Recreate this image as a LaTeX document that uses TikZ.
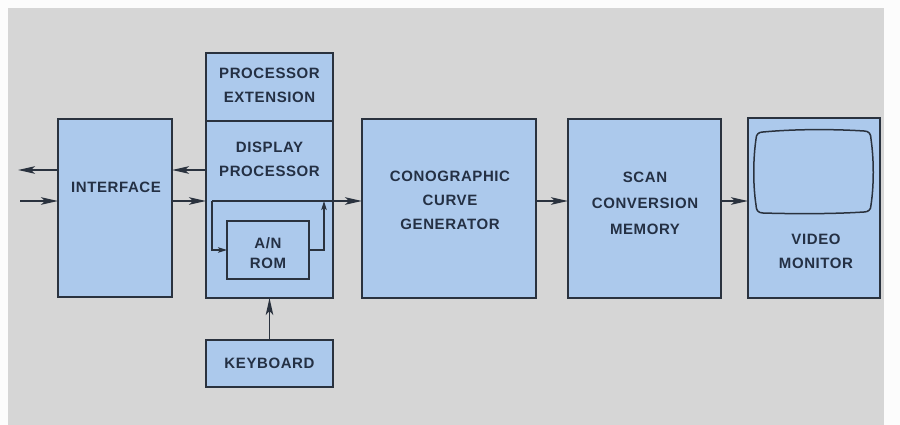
\documentclass[tikz,border=0pt]{standalone}
\usepackage{fontspec}
\setmainfont{Liberation Sans}
\newfontfamily\blockfont[LetterSpace=4]{Liberation Sans}
\usepackage{tikz}
\usetikzlibrary{arrows.meta}
\usetikzlibrary{positioning}
\definecolor{paper}{RGB}{214,214,214}
\definecolor{boxblue}{RGB}{172,201,236}
\definecolor{ink}{RGB}{42,50,62}
\definecolor{labink}{RGB}{36,48,68}
\tikzstyle{block} = [rectangle, draw=ink, line width=1.5pt, fill=boxblue, inner sep=0pt, outer sep=0pt]
\tikzstyle{caption} = [inner sep=0pt, align=center, text=labink, font=\blockfont\bfseries\fontsize{15}{24}\selectfont]
\tikzstyle{arrow} = [line width=1.6pt, draw=ink, -{Stealth[length=17pt,width=7.5pt,inset=4pt]}]
\tikzstyle{smallarrow} = [line width=1.4pt, draw=ink, -{Stealth[length=9pt,width=5.5pt,inset=2pt]}]

\begin{document}
\begin{tikzpicture}[x=1pt, y=-1pt]
\fill [white!92!paper] (0,0) rectangle (900,425);
\fill [paper] (8,8) rectangle (884,425);
\useasboundingbox (0,0) rectangle (900,425);

% blocks
\node (iface) [block, minimum width=114pt, minimum height=178pt] at (115,208) {};
\node (disp) [block, minimum width=127pt, minimum height=177pt] at (269.5,209.5) {};
\node (ext) [block, minimum width=127pt, minimum height=68pt, above=0pt of disp] {};
\node (kbd) [block, minimum width=127pt, minimum height=47pt, below=42pt of disp] {};
\node (rom) [block, minimum width=82pt, minimum height=58pt] at (268,250) {};
\node (cono) [block, minimum width=174pt, minimum height=179pt] at (449,208.5) {};
\node (scan) [block, minimum width=153pt, minimum height=179pt] at (644.5,208.5) {};
\node (video) [block, minimum width=132pt, minimum height=180pt] at (814,208) {};

% texts
\node (ifacetxt) [caption] at (116,187) {INTERFACE};
\node (exttxt) [caption] at (269.5,85) {PROCESSOR\\EXTENSION};
\node (disptxt) [caption] at (269.5,159.5) {DISPLAY\\PROCESSOR};
\node (romtxt) [caption] at (268,253) {A/N\\[-4pt]ROM};
\node (kbdtxt) [caption] at (269.5,363.5) {KEYBOARD};
\node (conotxt) [caption] at (450,200) {CONOGRAPHIC\\CURVE\\GENERATOR};
\node (scantxt) [caption] at (645,203) {SCAN\\[2pt]CONVERSION\\[2pt]MEMORY};
\node (videotxt) [caption] at (816,251.5) {VIDEO\\MONITOR};

% screen of the monitor
\draw [line width=1.5pt, draw=ink] (763,132) .. controls (795,129) and (833,129) .. (864,131)
  .. controls (869,131) and (871,134) .. (871,139)
  .. controls (874,160) and (874,185) .. (871,205)
  .. controls (871,210) and (868,212) .. (864,212)
  .. controls (833,214) and (795,214) .. (763,213)
  .. controls (758,213) and (756,210) .. (756,205)
  .. controls (753,185) and (753,160) .. (756,139)
  .. controls (756,134) and (759,132) .. (763,132) -- cycle;

% connections
\coordinate (hostout) at (18,170);
\coordinate (hostin) at (20,201);
\draw [arrow] (iface.west |- hostout) -- (hostout);
\draw [arrow] (hostin) -- (iface.west |- hostin);
\draw [arrow] (disp.west |- hostout) -- (iface.east |- hostout);
\draw [arrow] (iface.east |- hostin) -- (disp.west |- hostin);
\draw [arrow] ([xshift=6pt]disp.west |- hostin) -- (cono.west |- hostin);
\draw [smallarrow] ([xshift=6pt]disp.west |- hostin) |- (rom.west);
\draw [smallarrow] (rom.east) -| ([xshift=-9pt]disp.east |- hostin);
\draw [arrow] (kbd) -- (disp);
\draw [arrow] (cono.east |- hostin) -- (scan.west |- hostin);
\draw [arrow] (scan.east |- hostin) -- (video.west |- hostin);
\end{tikzpicture}
\end{document}
